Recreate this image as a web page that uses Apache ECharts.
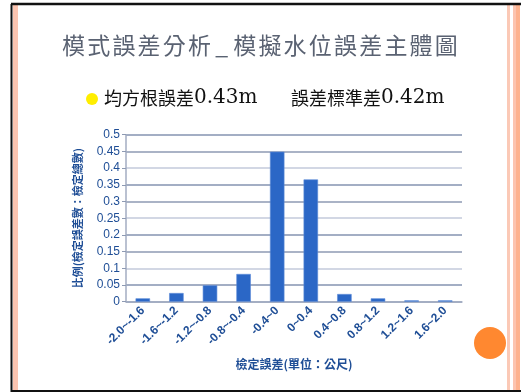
<!DOCTYPE html>
<html>
<head>
<meta charset="utf-8">
<script src="https://cdn.jsdelivr.net/npm/echarts@6/dist/echarts.min.js"></script>
<style>
  html, body { margin: 0; padding: 0; background: #ffffff; }
  #chart { width: 521px; height: 392px; }
</style>
</head>
<body>
<div id="chart"></div>
<script>
// Error-interval categories (metres) and share of checked points in each interval
const categories = ['-2.0~-1.6', '-1.6~-1.2', '-1.2~-0.8', '-0.8~-0.4', '-0.4~0',
                    '0~0.4', '0.4~0.8', '0.8~1.2', '1.2~1.6', '1.6~2.0'];
const ratios = [0.010, 0.026, 0.049, 0.083, 0.449, 0.366, 0.023, 0.010, 0.004, 0.004];
const yTicks = [0, 0.05, 0.1, 0.15, 0.2, 0.25, 0.3, 0.35, 0.4, 0.45, 0.5];

const titleText = '模式誤差分析_模擬水位誤差主體圖';
const rmseLabel = '均方根誤差', rmseValue = '0.43m';
const stdLabel = '誤差標準差', stdValue = '0.42m';

const chart = echarts.init(document.getElementById('chart'), null, { renderer: 'canvas' });

const blue = '#1f4e96';
const cjk = '"Noto Sans CJK TC", "Noto Sans CJK SC", sans-serif';
const serif = '"DejaVu Serif", "Liberation Serif", serif';

// title letters laid out one by one for wide tracking; the underscore takes a narrower slot
const titleGraphics = [];
let tx = 62;
titleText.split('').forEach(ch => {
  const narrow = ch === '_';
  titleGraphics.push({
    type: 'text', x: tx + (narrow ? 2 : 0), y: 34,
    style: { text: ch, fill: '#5a6272', font: '400 23px ' + cjk }
  });
  tx += narrow ? 20 : 25.2;
});

function statText(x, label, value) {
  return {
    type: 'text', x: x, y: 88,
    style: {
      text: '{a|' + label + '}{b|' + value + '}',
      rich: {
        a: { fill: '#111111', fontSize: 18, fontFamily: cjk },
        b: { fill: '#111111', fontSize: 20, fontFamily: serif }
      }
    }
  };
}

chart.setOption({
  animation: false,
  backgroundColor: '#ffffff',
  grid: { left: 126, right: 59, top: 134.7, bottom: 90.3, containLabel: false },
  xAxis: {
    type: 'category',
    data: categories,
    axisLine: { lineStyle: { color: '#a3adc2', width: 1.5 } },
    axisTick: { show: false },
    axisLabel: {
      rotate: 45, interval: 0, color: blue, fontSize: 12, fontWeight: 'bold',
      fontFamily: 'Arial, "Liberation Sans", sans-serif', margin: 7
    },
    name: '檢定誤差(單位：公尺)',
    nameLocation: 'middle',
    nameGap: 57,
    nameTextStyle: { color: blue, fontSize: 12, fontWeight: 'bold', fontFamily: cjk }
  },
  yAxis: {
    type: 'value',
    min: yTicks[0],
    max: yTicks[yTicks.length - 1],
    interval: 0.05,
    axisLine: { show: true, lineStyle: { color: '#a3adc2', width: 1.5 } },
    axisTick: { show: true, length: 4, lineStyle: { color: '#8e9ab3' } },
    axisLabel: {
      color: blue, fontSize: 12, margin: 6,
      fontFamily: 'Arial, "Liberation Sans", sans-serif',
      formatter: v => String(Math.round(v * 100) / 100)
    },
    splitLine: {
      show: true,
      lineStyle: { color: ['#8e9ab3', '#8593b0', '#c3cadb'], width: 1.5 }
    },
    name: '比例(檢定誤差數：檢定總數)',
    nameLocation: 'middle',
    nameGap: 43,
    nameRotate: 90,
    nameTextStyle: { color: blue, fontSize: 11, fontWeight: 'bold', fontFamily: cjk }
  },
  series: [{
    type: 'bar',
    data: ratios,
    barWidth: '43%',
    itemStyle: { color: '#2b67c6', borderColor: '#5b8ad6', borderWidth: 0.6 }
  }],
  graphic: [
    // slide frame
    { type: 'rect', shape: { x: 13, y: 4, width: 5, height: 388 }, style: { fill: '#fcc4b0' }, silent: true },
    { type: 'rect', shape: { x: 507, y: 4, width: 3, height: 388 }, style: { fill: '#fbc9b6' }, silent: true },
    { type: 'rect', shape: { x: 513, y: 4, width: 3, height: 388 }, style: { fill: '#fcc4b0' }, silent: true },
    { type: 'rect', shape: { x: 516, y: 4, width: 4, height: 388 }, style: { fill: '#fdb28f' }, silent: true },
    { type: 'line', shape: { x1: 11.5, y1: 4, x2: 11.5, y2: 392 }, style: { stroke: '#111111', lineWidth: 2 }, silent: true },
    { type: 'line', shape: { x1: 11, y1: 4, x2: 521, y2: 4 }, style: { stroke: '#111111', lineWidth: 2.5 }, silent: true },
    { type: 'line', shape: { x1: 11, y1: 391, x2: 521, y2: 391 }, style: { stroke: '#111111', lineWidth: 2 }, silent: true },
    // title
    ...titleGraphics,
    // bullet and statistics
    { type: 'circle', shape: { cx: 92, cy: 99, r: 6 }, style: { fill: '#ffee00' }, silent: true },
    statText(104, rmseLabel, rmseValue),
    statText(291, stdLabel, stdValue),
    // decorative orange disc
    { type: 'circle', shape: { cx: 490, cy: 343, r: 16 }, style: { fill: '#ff8830' }, silent: true }
  ]
});
</script>
</body>
</html>
